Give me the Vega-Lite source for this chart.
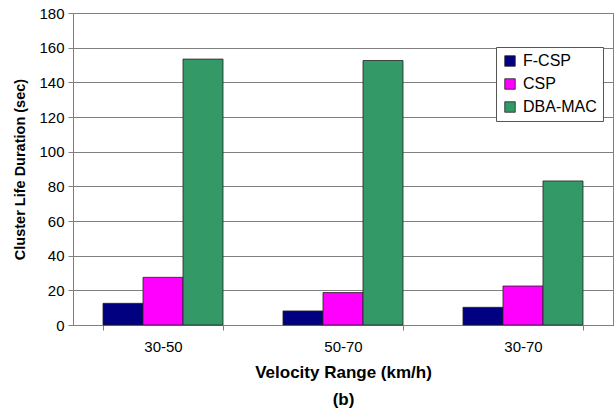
{
  "$schema": "https://vega.github.io/schema/vega-lite/v6.json",
  "width": 540,
  "height": 312,
  "autosize": {"type": "none"},
  "padding": {"left": 73, "top": 13, "right": 1, "bottom": 89},
  "background": "white",
  "config": {
    "font": "Liberation Sans",
    "view": {"stroke": "#808080", "strokeWidth": 1}
  },
  "data": {
    "values": [
      {"range": "30-50", "protocol": "F-CSP", "duration": 12.5},
      {"range": "30-50", "protocol": "CSP", "duration": 27.5},
      {"range": "30-50", "protocol": "DBA-MAC", "duration": 153.4},
      {"range": "50-70", "protocol": "F-CSP", "duration": 8.1},
      {"range": "50-70", "protocol": "CSP", "duration": 18.7},
      {"range": "50-70", "protocol": "DBA-MAC", "duration": 152.6},
      {"range": "30-70", "protocol": "F-CSP", "duration": 10.2},
      {"range": "30-70", "protocol": "CSP", "duration": 22.5},
      {"range": "30-70", "protocol": "DBA-MAC", "duration": 83.1}
    ]
  },
  "mark": {"type": "bar", "stroke": "#222222", "strokeWidth": 0.8},
  "encoding": {
    "x": {
      "field": "range",
      "type": "nominal",
      "sort": ["30-50", "50-70", "30-70"],
      "scale": {"paddingInner": 0.3333, "paddingOuter": 0.1667},
      "axis": {
        "title": ["Velocity Range (km/h)", "(b)"],
        "titleFont": "Liberation Sans",
        "titleFontSize": 17,
        "titleFontWeight": "bold",
        "titleColor": "black",
        "titleLineHeight": 27,
        "titlePadding": 10,
        "labelAngle": 0,
        "labelFontSize": 15,
        "labelColor": "black",
        "labelPadding": 9,
        "tickBand": "extent",
        "tickSize": 5,
        "tickColor": "#808080",
        "domainColor": "#808080",
        "grid": false
      }
    },
    "xOffset": {"field": "protocol", "type": "nominal", "sort": ["F-CSP", "CSP", "DBA-MAC"]},
    "y": {
      "field": "duration",
      "type": "quantitative",
      "scale": {"domain": [0, 180], "nice": false},
      "axis": {
        "title": "Cluster Life Duration (sec)",
        "titleFontSize": 14.5,
        "titleFontWeight": "bold",
        "titleColor": "black",
        "titlePadding": 11,
        "values": [0, 20, 40, 60, 80, 100, 120, 140, 160, 180],
        "labelFontSize": 15,
        "labelColor": "black",
        "labelPadding": 4,
        "tickSize": 5,
        "tickColor": "#808080",
        "domainColor": "#808080",
        "grid": true,
        "gridColor": "#808080",
        "gridWidth": 1
      }
    },
    "color": {
      "field": "protocol",
      "type": "nominal",
      "scale": {"domain": ["F-CSP", "CSP", "DBA-MAC"], "range": ["#000080", "#FF00FF", "#339966"]},
      "legend": {
        "title": null,
        "orient": "none",
        "legendX": 423,
        "legendY": 34,
        "fillColor": "white",
        "strokeColor": "#555555",
        "padding": 6,
        "symbolType": "square",
        "symbolSize": 110,
        "symbolStrokeColor": "#222222",
        "symbolStrokeWidth": 0.8,
        "labelFontSize": 16,
        "labelColor": "black",
        "rowPadding": 7,
        "labelOffset": 5
      }
    }
  }
}
